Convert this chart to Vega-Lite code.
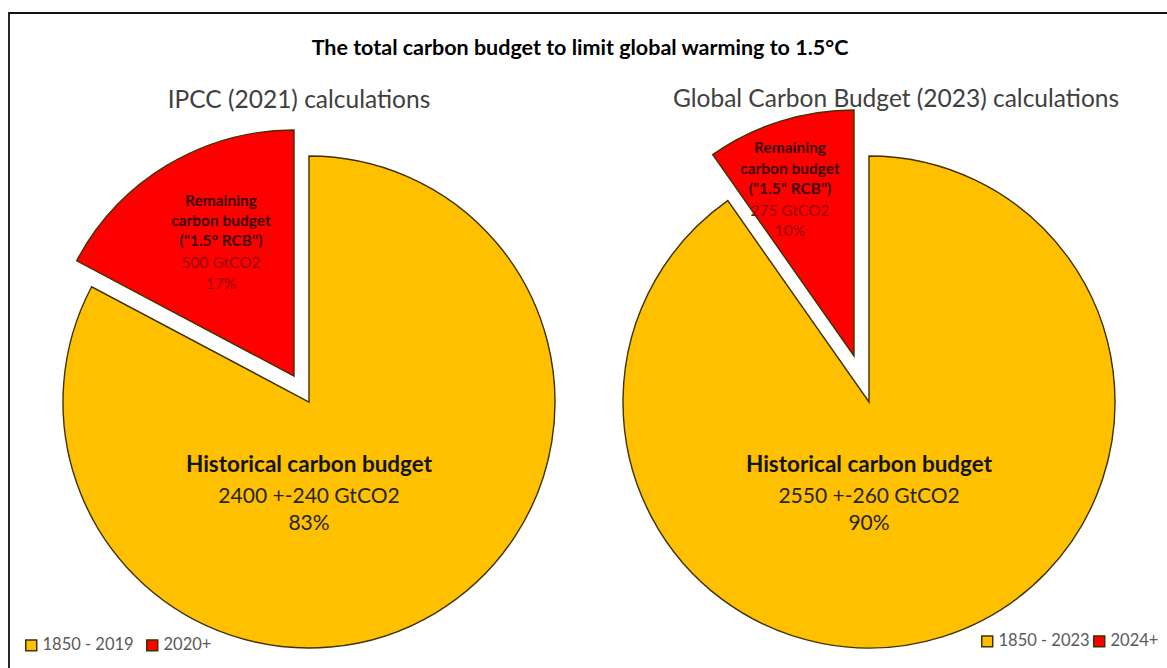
{
  "$schema": "https://vega.github.io/schema/vega-lite/v6.json",
  "width": 1160,
  "height": 778,
  "autosize": "none",
  "padding": {"left": 9, "top": 13, "right": -2, "bottom": -123},
  "background": "white",
  "title": {
    "text": "The total carbon budget to limit global warming to 1.5°C",
    "font": "Lato",
    "fontSize": 21.5,
    "fontWeight": "bold",
    "color": "#000000",
    "anchor": "middle",
    "frame": "group",
    "offset": -46,
    "dx": -9
  },
  "data": {
    "values": [
      {"study": "IPCC (2021) calculations", "part": "Historical carbon budget", "period": "1850 - 2019", "gtco2": 2400, "amount": "2400 +-240 GtCO2", "share": "83%", "label": ["Historical carbon budget"]},
      {"study": "IPCC (2021) calculations", "part": "Remaining carbon budget", "period": "2020+", "gtco2": 500, "amount": "500 GtCO2", "share": "17%", "label": ["Remaining", "carbon budget", "(\"1.5° RCB\")"]},
      {"study": "Global Carbon Budget (2023) calculations", "part": "Historical carbon budget", "period": "1850 - 2023", "gtco2": 2550, "amount": "2550 +-260 GtCO2", "share": "90%", "label": ["Historical carbon budget"]},
      {"study": "Global Carbon Budget (2023) calculations", "part": "Remaining carbon budget", "period": "2024+", "gtco2": 275, "amount": "275 GtCO2", "share": "10%", "label": ["Remaining", "carbon budget", "(\"1.5\" RCB\")"]}
    ]
  },
  "encoding": {
    "x": {
      "field": "study",
      "type": "nominal",
      "sort": ["IPCC (2021) calculations", "Global Carbon Budget (2023) calculations"],
      "scale": {"type": "point", "padding": 0.5357},
      "axis": null
    }
  },
  "layer": [
    {
      "transform": [{"filter": "datum.study === 'IPCC (2021) calculations'"}],
      "mark": {"type": "arc", "radius": 246, "stroke": "#3f3100", "strokeWidth": 1.4},
      "encoding": {
        "theta": {"field": "gtco2", "type": "quantitative", "stack": "normalize"},
        "order": {"field": "period", "sort": "ascending"},
        "color": {
          "field": "period",
          "type": "nominal",
          "scale": {"range": ["#FFC000", "#FF0000"]},
          "legend": {"orient": "none", "legendX": 14, "legendY": 624, "direction": "horizontal", "title": null, "columnPadding": 9}
        },
        "opacity": {"condition": {"test": "datum.part === 'Remaining carbon budget'", "value": 0}, "value": 1}
      }
    },
    {
      "transform": [{"filter": "datum.study === 'IPCC (2021) calculations'"}],
      "mark": {"type": "arc", "radius": 246, "stroke": "#3f3100", "strokeWidth": 1.4, "xOffset": -15, "yOffset": -26},
      "encoding": {
        "theta": {"field": "gtco2", "type": "quantitative", "stack": "normalize"},
        "order": {"field": "period", "sort": "ascending"},
        "color": {"field": "period", "type": "nominal"},
        "opacity": {"condition": {"test": "datum.part === 'Remaining carbon budget'", "value": 1}, "value": 0}
      }
    },
    {
      "transform": [{"filter": "datum.study === 'Global Carbon Budget (2023) calculations'"}],
      "mark": {"type": "arc", "radius": 246, "stroke": "#3f3100", "strokeWidth": 1.4},
      "encoding": {
        "theta": {"field": "gtco2", "type": "quantitative", "stack": "normalize"},
        "order": {"field": "period", "sort": "ascending"},
        "fill": {
          "field": "period",
          "type": "nominal",
          "scale": {"range": ["#FFC000", "#FF0000"]},
          "legend": {"orient": "none", "legendX": 970, "legendY": 620, "direction": "horizontal", "title": null, "columnPadding": 0}
        },
        "opacity": {"condition": {"test": "datum.part === 'Remaining carbon budget'", "value": 0}, "value": 1}
      }
    },
    {
      "transform": [{"filter": "datum.study === 'Global Carbon Budget (2023) calculations'"}],
      "mark": {"type": "arc", "radius": 246, "stroke": "#3f3100", "strokeWidth": 1.4, "xOffset": -15, "yOffset": -46},
      "encoding": {
        "theta": {"field": "gtco2", "type": "quantitative", "stack": "normalize"},
        "order": {"field": "period", "sort": "ascending"},
        "fill": {"field": "period", "type": "nominal"},
        "opacity": {"condition": {"test": "datum.part === 'Remaining carbon budget'", "value": 1}, "value": 0}
      }
    },
    {
      "transform": [{"filter": "datum.study === 'IPCC (2021) calculations' && datum.part === 'Historical carbon budget'"}],
      "mark": {"type": "text", "font": "Lato", "fontSize": 24.5, "color": "#404040", "baseline": "middle", "dx": -10, "dy": -301},
      "encoding": {"text": {"field": "study"}}
    },
    {
      "transform": [{"filter": "datum.study === 'Global Carbon Budget (2023) calculations' && datum.part === 'Historical carbon budget'"}],
      "mark": {"type": "text", "font": "Lato", "fontSize": 24.5, "color": "#404040", "baseline": "middle", "dx": 27, "dy": -302},
      "encoding": {"text": {"field": "study"}}
    },
    {
      "transform": [{"filter": "datum.part === 'Historical carbon budget'"}],
      "mark": {"type": "text", "font": "Lato", "fontSize": 22.5, "fontWeight": "bold", "color": "#141414", "baseline": "middle", "dy": 63},
      "encoding": {"text": {"field": "part"}}
    },
    {
      "transform": [{"filter": "datum.part === 'Historical carbon budget'"}],
      "mark": {"type": "text", "font": "Lato", "fontSize": 21, "color": "#262626", "baseline": "middle", "dy": 95},
      "encoding": {"text": {"field": "amount"}}
    },
    {
      "transform": [{"filter": "datum.part === 'Historical carbon budget'"}],
      "mark": {"type": "text", "font": "Lato", "fontSize": 21, "color": "#262626", "baseline": "middle", "dy": 122},
      "encoding": {"text": {"field": "share"}}
    },
    {
      "transform": [{"filter": "datum.study === 'IPCC (2021) calculations' && datum.part === 'Remaining carbon budget'"}],
      "mark": {"type": "text", "font": "Lato", "fontSize": 15.5, "fontWeight": "bold", "color": "#3a0505", "baseline": "middle", "lineHeight": 20, "dx": -88, "dy": -201},
      "encoding": {"text": {"field": "label"}}
    },
    {
      "transform": [{"filter": "datum.study === 'IPCC (2021) calculations' && datum.part === 'Remaining carbon budget'"}],
      "mark": {"type": "text", "font": "Lato", "fontSize": 15.5, "color": "#960000", "baseline": "middle", "dx": -88, "dy": -139},
      "encoding": {"text": {"field": "amount"}}
    },
    {
      "transform": [{"filter": "datum.study === 'IPCC (2021) calculations' && datum.part === 'Remaining carbon budget'"}],
      "mark": {"type": "text", "font": "Lato", "fontSize": 15.5, "color": "#960000", "baseline": "middle", "dx": -88, "dy": -118},
      "encoding": {"text": {"field": "share"}}
    },
    {
      "transform": [{"filter": "datum.study === 'Global Carbon Budget (2023) calculations' && datum.part === 'Remaining carbon budget'"}],
      "mark": {"type": "text", "font": "Lato", "fontSize": 15.5, "fontWeight": "bold", "color": "#3a0505", "baseline": "middle", "lineHeight": 20.5, "dx": -79, "dy": -254},
      "encoding": {"text": {"field": "label"}}
    },
    {
      "transform": [{"filter": "datum.study === 'Global Carbon Budget (2023) calculations' && datum.part === 'Remaining carbon budget'"}],
      "mark": {"type": "text", "font": "Lato", "fontSize": 15.5, "color": "#960000", "baseline": "middle", "dx": -79, "dy": -191},
      "encoding": {"text": {"field": "amount"}}
    },
    {
      "transform": [{"filter": "datum.study === 'Global Carbon Budget (2023) calculations' && datum.part === 'Remaining carbon budget'"}],
      "mark": {"type": "text", "font": "Lato", "fontSize": 15.5, "color": "#960000", "baseline": "middle", "dx": -79, "dy": -171},
      "encoding": {"text": {"field": "share"}}
    }
  ],
  "config": {
    "view": {"stroke": "#111111", "strokeWidth": 1.8},
    "legend": {
      "symbolType": "square",
      "symbolSize": 120,
      "symbolStrokeColor": "#3f3100",
      "symbolStrokeWidth": 1.5,
      "symbolOpacity": 1,
      "labelFont": "Lato",
      "labelFontSize": 16.5,
      "labelColor": "#595959",
      "labelOffset": 3,
      "padding": 0
    }
  }
}
